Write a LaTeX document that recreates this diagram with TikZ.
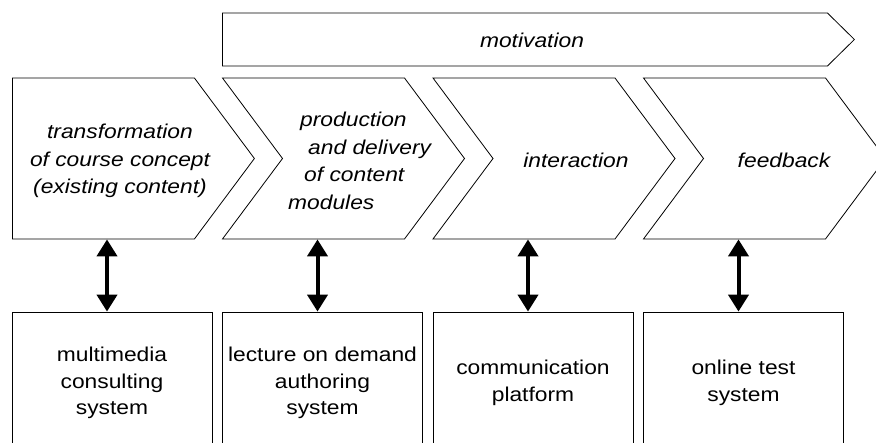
\documentclass[tikz,border=0pt]{standalone}
\usepackage{fontspec}
\setmainfont{Liberation Sans}[FakeStretch=1.14]
\usetikzlibrary{positioning}
\usetikzlibrary{shapes.symbols}
\usetikzlibrary{arrows.meta}

\tikzset{
	phase/.style = {draw, signal, signal to = east, signal from = west, signal pointer angle = 106.6, minimum width = 242pt, minimum height = 161pt, inner sep = 0pt, line width = 0.8pt},
	sysbox/.style = {draw, rectangle, minimum width = 200pt, minimum height = 142pt, align = center, line width = 0.8pt, font = \fontsize{20}{26.5}\selectfont},
	phasetext/.style = {align = center, inner sep = 0pt, font = \fontsize{20}{27.5}\selectfont\itshape},
	link/.style = {{Triangle[width = 20pt, length = 17pt]}-{Triangle[width = 20pt, length = 17pt]}, line width = 4pt}
}

\begin{document}
\begin{tikzpicture}[x = 1pt, y = -1pt]
	\useasboundingbox (0, 0) rectangle (876, 443);
	\clip (0, 0) rectangle (876, 443);
	\node [draw, signal, signal to = east, signal pointer angle = 89, minimum width = 632pt, minimum height = 53pt, inner sep = 0pt, line width = 0.8pt, anchor = west] (motiv) at (222, 39.5) {};
	\node [phasetext] (motivtext) at (532, 40) {motivation};
	\node [phase, signal from = nowhere, anchor = west] (transf) at (12, 158.5) {};
	\node [phase] (prod) at (343.5, 158.5) {};
	\node [phase] (inter) at (554, 158.5) {};
	\node [phase] (feedb) at (764.5, 158.5) {};
	\node [phasetext] (transftext) at (120, 161) {transformation\\of course concept\\(existing content)};
	\node [phasetext, align = left, anchor = west] (prodtext) at (288, 161) {\hspace*{12pt}production\\\hspace*{20pt}and delivery\\\hspace*{16pt}of content\\modules};
	\node [phasetext] (intertext) at (576, 160) {interaction};
	\node [phasetext] (feedbtext) at (784, 160) {feedback};
	\node [sysbox] (consult) at (112, 383) {multimedia\\consulting\\system};
	\node [sysbox] (author) at (322.5, 383) {lecture on demand\\authoring\\system};
	\node [sysbox] (commun) at (533, 383) {communication\\platform};
	\node [sysbox] (test) at (743.5, 383) {online test\\system};
	\draw [link] ([xshift = -5pt]consult.north) -- ([xshift = -5pt]consult.north |- transf.south);
	\draw [link] ([xshift = -5pt]author.north) -- ([xshift = -5pt]author.north |- prod.south);
	\draw [link] ([xshift = -5pt]commun.north) -- ([xshift = -5pt]commun.north |- inter.south);
	\draw [link] ([xshift = -5pt]test.north) -- ([xshift = -5pt]test.north |- feedb.south);
\end{tikzpicture}
\end{document}
